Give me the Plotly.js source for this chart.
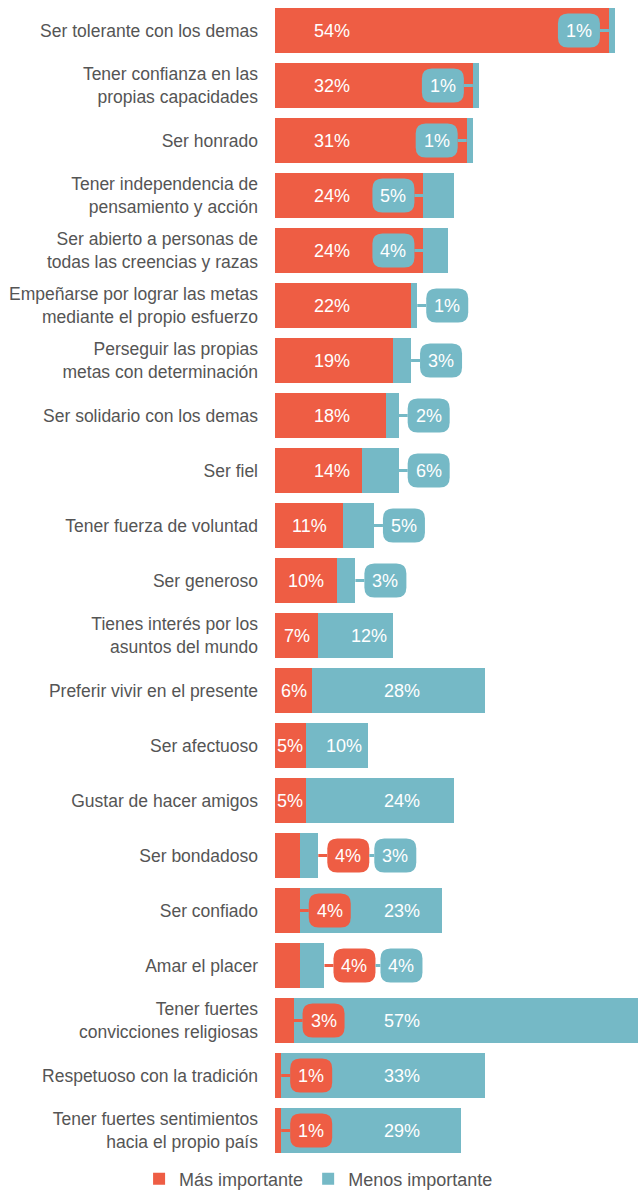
<!DOCTYPE html>
<html>
<head>
<meta charset="utf-8">
<script src="https://cdn.plot.ly/plotly-3.0.1.min.js"></script>
<style>
  html, body { margin: 0; padding: 0; background: #fff; }
  #chart { width: 638px; height: 1190px; }
</style>
</head>
<body>
<div id="chart"></div>
<script>
// ---------- data ----------
const categories = [
  "Ser tolerante con los demas",
  "Tener confianza en las<br>propias capacidades",
  "Ser honrado",
  "Tener independencia de<br>pensamiento y acción",
  "Ser abierto a personas de<br>todas las creencias y razas",
  "Empeñarse por lograr las metas<br>mediante el propio esfuerzo",
  "Perseguir las propias<br>metas con determinación",
  "Ser solidario con los demas",
  "Ser fiel",
  "Tener fuerza de voluntad",
  "Ser generoso",
  "Tienes interés por los<br>asuntos del mundo",
  "Preferir vivir en el presente",
  "Ser afectuoso",
  "Gustar de hacer amigos",
  "Ser bondadoso",
  "Ser confiado",
  "Amar el placer",
  "Tener fuertes<br>convicciones religiosas",
  "Respetuoso con la tradición",
  "Tener fuertes sentimientos<br>hacia el propio país"
];
const masImportante   = [54, 32, 31, 24, 24, 22, 19, 18, 14, 11, 10, 7, 6, 5, 5, 4, 4, 4, 3, 1, 1];
const menosImportante = [1, 1, 1, 5, 4, 1, 3, 2, 6, 5, 3, 12, 28, 10, 24, 3, 23, 4, 57, 33, 29];
const seriesNames = ["Más importante", "Menos importante"];

// ---------- style ----------
const RED = "#EE5D44";
const TEAL = "#75B9C6";
const FONT = "'Liberation Sans', Arial, sans-serif";
const LABEL_COLOR = "#555555";
const XMAX = 58.7;
const BW = 21, BH = 17, BR = 10;   // badge half width / half height / radius (px)
const OFF = 30;                    // badge centre offset from anchor (px)

const idx = categories.map((_, i) => i);

function badgePath(cx) {
  const l = cx - BW, r = cx + BW, t = -BH, b = BH;
  return `M${l + BR},${t} L${r - BR},${t} Q${r},${t} ${r},${t + BR} L${r},${b - BR} Q${r},${b} ${r - BR},${b} ` +
         `L${l + BR},${b} Q${l},${b} ${l},${b - BR} L${l},${t + BR} Q${l},${t} ${l + BR},${t} Z`;
}

const shapes = [];
const annotations = [];

function addBadge(anchor, row, cx, color, text, c0, c1) {
  shapes.push({
    type: "line", xref: "x", yref: "y", xsizemode: "pixel", xanchor: anchor,
    x0: c0, x1: c1, y0: row, y1: row, line: { color: color, width: 3 }, layer: "above"
  });
  shapes.push({
    type: "path", xref: "x", yref: "y", xsizemode: "pixel", ysizemode: "pixel",
    xanchor: anchor, yanchor: row, path: badgePath(cx),
    fillcolor: color, line: { width: 0 }, layer: "above"
  });
  annotations.push({
    x: anchor, y: row, xref: "x", yref: "y", xshift: cx, text: text, showarrow: false,
    font: { family: FONT, size: 18, color: "#ffffff" }, xanchor: "center", yanchor: "middle"
  });
}

function addInLabel(x, row, text, xshift) {
  annotations.push({
    x: x, y: row, xref: "x", yref: "y", xshift: xshift || 0, text: text, showarrow: false,
    font: { family: FONT, size: 18, color: "#ffffff" }, xanchor: "center", yanchor: "middle"
  });
}

idx.forEach(i => {
  const m = masImportante[i], n = menosImportante[i], total = m + n;
  let redBadgeAnchor = null;
  if (m >= 5) {
    addInLabel(m > 12 ? 9.2 : m / 2, i, m + "%");
  } else {
    redBadgeAnchor = (n < 10) ? total : m;
    addBadge(redBadgeAnchor, i, OFF, RED, m + "%", 0, 9);
  }
  if (n >= 10) {
    const x = Math.min(20.55, total);
    addInLabel(x, i, n + "%", total < 24.5 ? -24 : 0);
  } else if (redBadgeAnchor !== null) {
    addBadge(redBadgeAnchor, i, OFF + 47, TEAL, n + "%", OFF + BW, OFF + 47 - BW);
  } else if (m >= 24) {
    addBadge(m, i, -OFF, TEAL, n + "%", -9, 0);
  } else {
    addBadge(total, i, OFF, TEAL, n + "%", 0, 9);
  }
});

const traces = [
  { type: "bar", orientation: "h", name: seriesNames[0], y: idx, x: masImportante,
    marker: { color: RED }, width: 0.836, hoverinfo: "skip" },
  { type: "bar", orientation: "h", name: seriesNames[1], y: idx, x: menosImportante,
    marker: { color: TEAL }, width: 0.836, hoverinfo: "skip" }
];

const layout = {
  width: 638, height: 1190,
  margin: { l: 275, r: 0, t: 3, b: 32 },
  paper_bgcolor: "#ffffff", plot_bgcolor: "#ffffff",
  barmode: "stack",
  showlegend: true,
  legend: {
    orientation: "h", xref: "container", yref: "container",
    x: 0.218, xanchor: "left", y: 0.0092, yanchor: "middle",
    font: { family: FONT, size: 18, color: LABEL_COLOR }, itemwidth: 30,
    traceorder: "normal"
  },
  xaxis: { range: [0, XMAX], visible: false, fixedrange: true },
  yaxis: {
    range: [20.5, -0.5], tickmode: "array", tickvals: idx, ticktext: categories,
    ticks: "", showgrid: false, zeroline: false, showline: false,
    ticklabelstandoff: 16,
    tickfont: { family: FONT, size: 17.5, color: LABEL_COLOR }, fixedrange: true
  },
  shapes: shapes,
  annotations: annotations
};

Plotly.newPlot("chart", traces, layout, { displayModeBar: false, staticPlot: true });
</script>
</body>
</html>
